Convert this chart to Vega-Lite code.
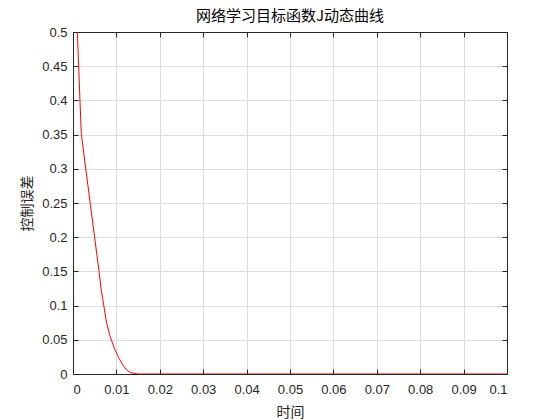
{
  "$schema": "https://vega.github.io/schema/vega-lite/v6.json",
  "autosize": {"type": "none"},
  "width": 434,
  "height": 342,
  "padding": {"left": 73, "top": 32, "right": 53, "bottom": 46},
  "background": "white",
  "title": {"text": "网络学习目标函数J动态曲线", "font": "Noto Sans CJK SC", "fontSize": 15, "fontWeight": "normal", "color": "#000000", "offset": 2, "anchor": "middle"},
  "config": {
    "view": {"stroke": "#262626", "strokeWidth": 1},
    "axis": {
      "labelFont": "Liberation Sans", "labelFontSize": 13, "labelColor": "#262626",
      "titleFont": "Noto Sans CJK SC", "titleFontSize": 14, "titleFontWeight": "normal", "titleColor": "#262626",
      "domainColor": "#262626", "tickColor": "#262626", "tickSize": -5,
      "gridColor": "#dcdcdc", "gridOpacity": 1, "gridWidth": 1
    }
  },
  "data": {"values": [
    {"t": 0.001, "J": 0.5},
    {"t": 0.0019, "J": 0.352},
    {"t": 0.003, "J": 0.297},
    {"t": 0.004, "J": 0.248},
    {"t": 0.005, "J": 0.199},
    {"t": 0.006, "J": 0.150},
    {"t": 0.0065, "J": 0.123},
    {"t": 0.007, "J": 0.104},
    {"t": 0.0077, "J": 0.076},
    {"t": 0.0085, "J": 0.056},
    {"t": 0.0095, "J": 0.038},
    {"t": 0.0105, "J": 0.024},
    {"t": 0.0115, "J": 0.013},
    {"t": 0.0125, "J": 0.005},
    {"t": 0.0135, "J": 0.0015},
    {"t": 0.015, "J": 0.0},
    {"t": 0.03, "J": 0.0},
    {"t": 0.06, "J": 0.0},
    {"t": 0.1, "J": 0.0}
  ]},
  "layer": [
    {
      "mark": {"type": "line", "color": "#ff0000", "strokeWidth": 1, "clip": true},
      "encoding": {
        "x": {"field": "t", "type": "quantitative", "scale": {"domain": [0, 0.1], "nice": false, "zero": false},
          "axis": {"orient": "bottom", "title": "时间", "titlePadding": 9, "values": [0,0.01,0.02,0.03,0.04,0.05,0.06,0.07,0.08,0.09,0.1], "format": "~g", "labelPadding": 14, "grid": true}},
        "y": {"field": "J", "type": "quantitative", "scale": {"domain": [0, 0.5], "nice": false, "zero": false},
          "axis": {"orient": "left", "title": "控制误差", "titlePadding": 7, "values": [0,0.05,0.1,0.15,0.2,0.25,0.3,0.35,0.4,0.45,0.5], "format": "~g", "labelPadding": 11, "grid": true}}
      }
    },
    {
      "mark": {"type": "line", "opacity": 0},
      "encoding": {
        "x": {"field": "t", "type": "quantitative", "axis": {"orient": "top", "title": null, "labels": false, "grid": false, "values": [0,0.01,0.02,0.03,0.04,0.05,0.06,0.07,0.08,0.09,0.1]}},
        "y": {"field": "J", "type": "quantitative", "axis": {"orient": "right", "title": null, "labels": false, "grid": false, "values": [0,0.05,0.1,0.15,0.2,0.25,0.3,0.35,0.4,0.45,0.5]}}
      }
    }
  ],
  "resolve": {"axis": {"x": "independent", "y": "independent"}}
}
